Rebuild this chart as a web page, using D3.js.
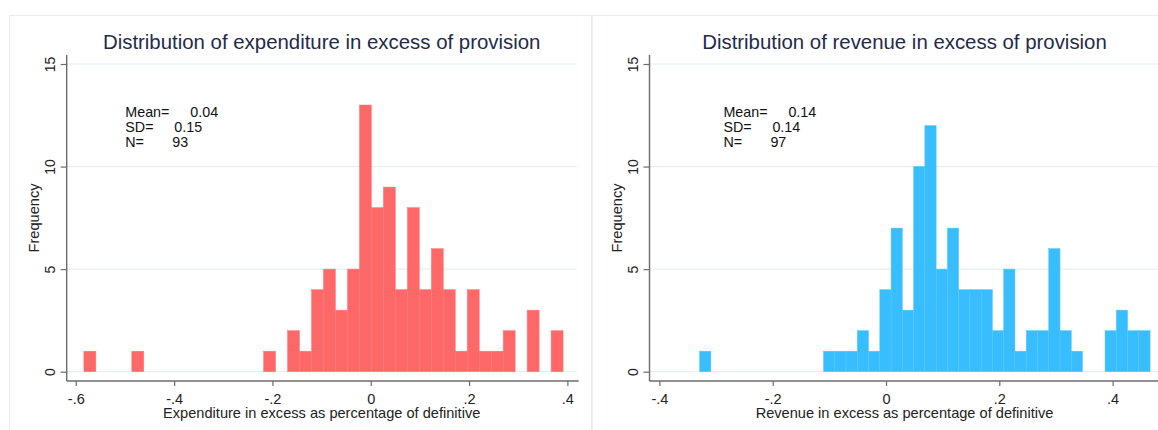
<!DOCTYPE html>
<html>
<head>
<meta charset="utf-8">
<script src="https://cdn.jsdelivr.net/npm/d3@7/dist/d3.min.js"></script>
<style>
  body { margin: 0; background: #fff; }
  svg text { font-family: "Liberation Sans", Arial, sans-serif; }
</style>
</head>
<body>
<div id="chart"></div>
<script>
// histogram counts, 40 bins each
var expCounts = [1,0,0,0,1,0,0,0,0,0,0,0,0,0,0,1,0,2,1,4,5,3,5,13,8,9,4,8,4,6,4,1,4,1,1,2,0,3,0,2];
var expBinStart = -0.5835;
var expBinWidth = 0.02437;
var revCounts = [1,0,0,0,0,0,0,0,0,0,0,1,1,1,2,1,4,7,3,10,12,5,7,4,4,4,2,5,1,2,2,6,2,1,0,0,2,3,2,2];
var revBinStart = -0.3290;
var revBinWidth = 0.01988;

var expTicks = [-0.6, -0.4, -0.2, 0, 0.2, 0.4];
var revTicks = [-0.4, -0.2, 0, 0.2, 0.4];
var yTicks = [0, 5, 10, 15];

var expStats = [["Mean=", "0.04"], ["SD=", "0.15"], ["N=", "93"]];
var revStats = [["Mean=", "0.14"], ["SD=", "0.14"], ["N=", "97"]];

var W = 1158, H = 430;
var svg = d3.select("#chart").append("svg").attr("width", W).attr("height", H);

function fmtTick(v){
    if (v === 0) return "0";
    return (v < 0 ? "-" : "") + String(Math.abs(v)).replace(/^0/, "");
}

function drawPanel(cfg){
    var g = svg.append("g").attr("transform", "translate(" + cfg.dx + ",0)");
    // panel frame
    g.append("rect").attr("x", 9.5).attr("y", 15.5).attr("width", 582).attr("height", 500)
        .attr("fill", "none").attr("stroke", "#e5eded").attr("stroke-width", 1);

    var left = 66.7, right = 576.7, top = 55, bottom = 381;
    var x = d3.scaleLinear().domain(cfg.xDomain).range([left, right]);
    var y = d3.scaleLinear().domain([0, 15]).range([371.7, 64]);

    // gridlines
    g.selectAll(".grid").data(yTicks).enter().append("line")
        .attr("x1", left).attr("x2", right)
        .attr("y1", function(d){ return y(d); }).attr("y2", function(d){ return y(d); })
        .attr("stroke", "#e6eff1").attr("stroke-width", 1.2);

    var bins = cfg.counts.map(function(c, i){
        return {x0: cfg.start + i*cfg.width, x1: cfg.start + (i+1)*cfg.width, n: c};
    }).filter(function(b){ return b.n > 0; });

    g.selectAll(".bar").data(bins).enter().append("rect")
        .attr("x", function(d){ return x(d.x0); })
        .attr("width", function(d){ return x(d.x1) - x(d.x0); })
        .attr("y", function(d){ return y(d.n); })
        .attr("height", function(d){ return y(0) - y(d.n); })
        .attr("fill", cfg.color).attr("stroke", cfg.edge).attr("stroke-width", 0.5);

    // y axis
    var yAxis = d3.axisLeft(y).tickValues(yTicks).tickSize(6).tickFormat(d3.format("d"));
    var ya = g.append("g").attr("transform", "translate(" + left + ",0)").call(yAxis);
    ya.select(".domain").remove();
    ya.selectAll(".tick line").attr("stroke", "#6b6b6b").attr("stroke-width", 1.2);
    ya.selectAll(".tick text").attr("x", null).attr("dy", null)
        .attr("transform", "translate(-12,0) rotate(-90)")
        .attr("text-anchor", "middle").attr("font-size", 14).attr("fill", "#222");
    g.append("line").attr("x1", left).attr("x2", left).attr("y1", top).attr("y2", bottom)
        .attr("stroke", "#6b6b6b").attr("stroke-width", 1.4);

    // x axis
    var xAxis = d3.axisBottom(x).tickValues(cfg.ticks).tickSize(5).tickFormat(fmtTick);
    var xa = g.append("g").attr("transform", "translate(0," + bottom + ")").call(xAxis);
    xa.select(".domain").remove();
    xa.selectAll(".tick line").attr("stroke", "#6b6b6b").attr("stroke-width", 1.2);
    xa.selectAll(".tick text").attr("y", 22.5).attr("dy", null)
        .attr("font-size", 14.5).attr("fill", "#222");
    g.append("line").attr("x1", left).attr("x2", right + 2).attr("y1", bottom).attr("y2", bottom)
        .attr("stroke", "#6b6b6b").attr("stroke-width", 1.4);

    // titles
    g.append("text").attr("x", (left + right)/2).attr("y", 49)
        .attr("text-anchor", "middle").attr("font-size", 20.4).attr("fill", "#1f2b4b")
        .text(cfg.title);
    g.append("text").attr("x", (left + right)/2).attr("y", 417.5)
        .attr("text-anchor", "middle").attr("font-size", 14.6).attr("fill", "#222")
        .text(cfg.xlabel);
    g.append("text").attr("transform", "translate(39," + ((top + bottom)/2) + ") rotate(-90)")
        .attr("text-anchor", "middle").attr("font-size", 14.6).attr("fill", "#222")
        .text("Frequency");

    // stats box
    var st = g.append("g");
    cfg.stats.forEach(function(s, i){
        var yy = 116.5 + i*15;
        st.append("text").attr("x", cfg.statX).attr("y", yy).attr("font-size", 14.3).attr("fill", "#111").text(s[0]);
        st.append("text").attr("x", cfg.statX + cfg.valOff[i]).attr("y", yy).attr("font-size", 14.3).attr("fill", "#111").text(s[1]);
    });
}

drawPanel({
    dx: 0, xDomain: [-0.6185, 0.419],
    counts: expCounts, start: expBinStart, width: expBinWidth,
    color: "#ff6868", edge: "#ff7878", ticks: expTicks,
    title: "Distribution of expenditure in excess of provision",
    xlabel: "Expenditure in excess as percentage of definitive",
    stats: expStats, statX: 125.3, valOff: [65, 49, 47]
});
drawPanel({
    dx: 582.8, xDomain: [-0.4175, 0.4828],
    counts: revCounts, start: revBinStart, width: revBinWidth,
    color: "#38bdff", edge: "#55c7ff", ticks: revTicks,
    title: "Distribution of revenue in excess of provision",
    xlabel: "Revenue in excess as percentage of definitive",
    stats: revStats, statX: 140.6, valOff: [65, 49, 47]
});
</script>
</body>
</html>
